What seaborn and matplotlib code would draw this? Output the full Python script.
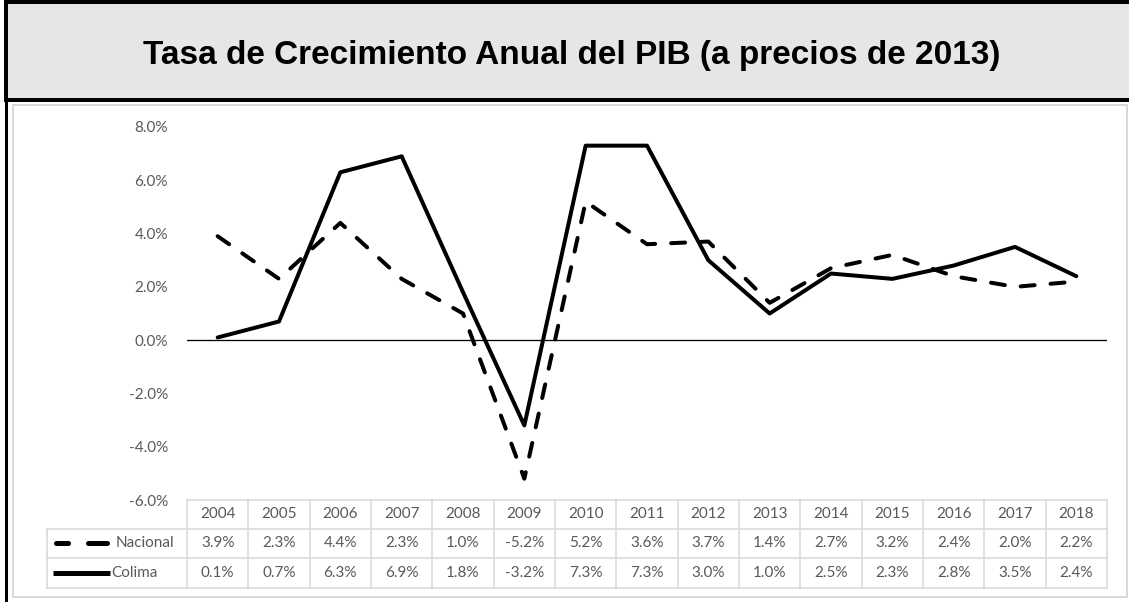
import matplotlib
matplotlib.use("Agg")
import matplotlib.pyplot as plt
import matplotlib.transforms as mtransforms
from matplotlib.patches import Rectangle
import seaborn as sns

# Data (growth rates, %)
years = [str(y) for y in range(2004, 2019)]
nacional = [3.9, 2.3, 4.4, 2.3, 1.0, -5.2, 5.2, 3.6, 3.7, 1.4, 2.7, 3.2, 2.4, 2.0, 2.2]
colima = [0.1, 0.7, 6.3, 6.9, 1.8, -3.2, 7.3, 7.3, 3.0, 1.0, 2.5, 2.3, 2.8, 3.5, 2.4]
y_ticks = [-6, -4, -2, 0, 2, 4, 6, 8]
title = "Tasa de Crecimiento Anual del PIB (a precios de 2013)"

sns.set_theme(style="white")
plt.rcParams['font.family'] = ['Lato', 'DejaVu Sans']

W, H = 1129, 602
PX = 0.72  # points per pixel at dpi 100
TXT = "#595959"
GRID = "#d9d9d9"
FS = 11

fig = plt.figure(figsize=(W / 100, H / 100), dpi=100)

# background axes in pixel coordinates for frames and table
bg = fig.add_axes([0, 0, 1, 1])
bg.set_xlim(0, W)
bg.set_ylim(H, 0)
bg.axis("off")

# title box (right edge runs off the figure)
bg.add_patch(Rectangle((5.5, 2), W + 10, 98, facecolor="#e6e6e6",
                       edgecolor="black", lw=4 * PX))
bg.plot([5.5, 5.5], [100, H], color="black", lw=3 * PX, solid_capstyle="butt")
bg.text(572, 64, title, ha="center", va="baseline", fontsize=24,
        fontweight="bold", family=["Liberation Sans", "DejaVu Sans"], color="black")

# chart area frame
bg.add_patch(Rectangle((13, 105), 1114, 492, facecolor="none",
                       edgecolor=GRID, lw=2 * PX))

# plot area
left, right, top, bottom = 187, 1107, 127, 500
ax = fig.add_axes([left / W, 1 - bottom / H, (right - left) / W, (bottom - top) / H])
ax.set_facecolor("none")
xs = list(range(len(years)))

sns.lineplot(x=xs, y=nacional, ax=ax, color="black", lw=4 * PX)
ln = ax.lines[-1]
ln.set_dashes([3.5, 4.0])
ln.set_dash_capstyle("round")
sns.lineplot(x=xs, y=colima, ax=ax, color="black", lw=4 * PX)

ax.axhline(0, color="black", lw=1.3 * PX, zorder=1)
ax.set_xlim(-0.5, len(years) - 0.5)
ax.set_ylim(-6, 8)
ax.set_yticks(y_ticks)
ax.set_yticklabels([f"{v:.1f}%" for v in y_ticks], color=TXT, fontsize=FS)
ax.tick_params(axis="y", length=0, pad=19 * PX)
ax.set_xticks([])
for s in ax.spines.values():
    s.set_visible(False)

# data table under the plot
tr = mtransforms.blended_transform_factory(ax.transData, bg.transData)
rows_y = [499.5, 528.5, 558, 587.5]
n = len(years)
lab_left = -0.5 - (187 - 47) / (920 / n)
kw = dict(color=GRID, lw=1.6 * PX, clip_on=False, solid_capstyle="projecting")
ax.plot([-0.5, n - 0.5], [rows_y[0]] * 2, transform=tr, **kw)
for yy in rows_y[1:]:
    ax.plot([lab_left, n - 0.5], [yy] * 2, transform=tr, **kw)
for k in range(n + 1):
    ax.plot([k - 0.5] * 2, [rows_y[0], rows_y[-1]], transform=tr, **kw)
ax.plot([lab_left] * 2, [rows_y[1], rows_y[-1]], transform=tr, **kw)

cy = [(rows_y[i] + rows_y[i + 1]) / 2 for i in range(3)]
for i, yr in enumerate(years):
    ax.text(i, cy[0], yr, transform=tr, ha="center", va="center", color=TXT, fontsize=FS)
    ax.text(i, cy[1], f"{nacional[i]:.1f}%", transform=tr, ha="center", va="center",
            color=TXT, fontsize=FS)
    ax.text(i, cy[2], f"{colima[i]:.1f}%", transform=tr, ha="center", va="center",
            color=TXT, fontsize=FS)

# legend keys in the row labels
bg.plot([55.5, 106.5], [cy[1], cy[1]], color="black", lw=5 * PX,
        dashes=[2.4, 4.0, 3.8, 10], dash_capstyle="round")
bg.plot([53, 110], [cy[2], cy[2]], color="black", lw=5 * PX, solid_capstyle="butt")
bg.text(116, cy[1], "Nacional", ha="left", va="center", color=TXT, fontsize=FS)
bg.text(111, cy[2], "Colima", ha="left", va="center", color=TXT, fontsize=FS)

fig.savefig("out.png", dpi=100)
